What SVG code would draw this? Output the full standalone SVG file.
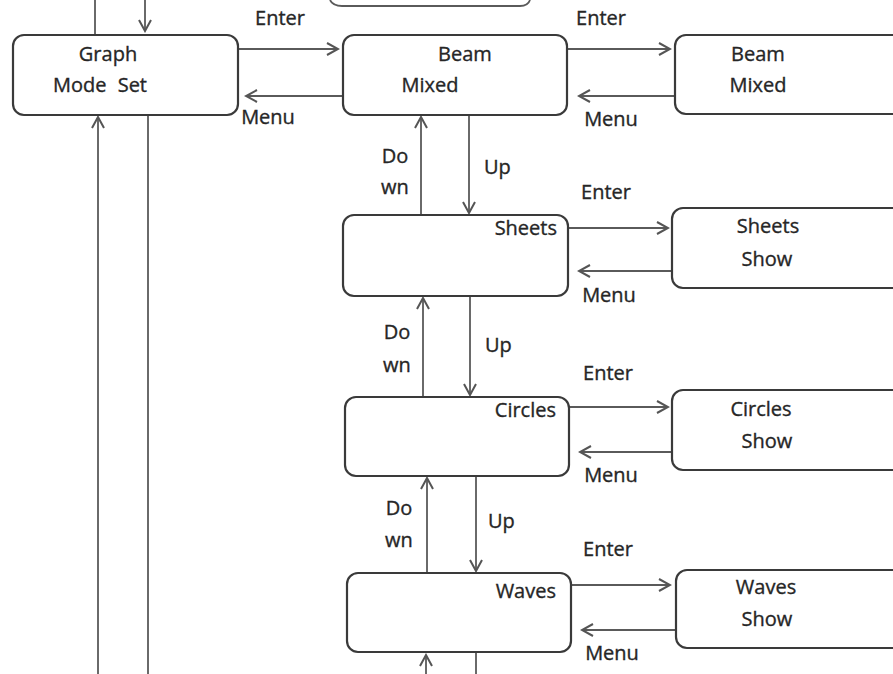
<svg xmlns="http://www.w3.org/2000/svg" width="893" height="674" viewBox="0 0 893 674">
<defs>
<marker id="ah" markerUnits="userSpaceOnUse" markerWidth="14" markerHeight="16" refX="12" refY="7" orient="auto">
<path d="M1,1 L12,7 L1,13" fill="none" stroke="#555" stroke-width="2"/>
</marker>
<style>
.box{fill:#fff;stroke:#3a3a3a;stroke-width:2.2}
.t{font-family:"Open Sans","Liberation Sans",sans-serif;font-size:20px;fill:#262626;stroke:#262626;stroke-width:0.35}
.m{text-anchor:middle}
.e{text-anchor:end}
.c{stroke:#5a5a5a;stroke-width:1.8;fill:none}
.a{marker-end:url(#ah)}
</style>
</defs>
<rect width="893" height="674" fill="#fff"/>
<path class="c" d="M330,0 Q333,6 342,6 L520,6 Q528,6 530,0" stroke="#3a3a3a" stroke-width="2"/>
<g id="connectors">
<line class="c" x1="95" y1="0" x2="95" y2="35"/>
<line class="c a" x1="145" y1="0" x2="145" y2="31"/>
<line class="c a" x1="98" y1="674" x2="98" y2="117"/>
<line class="c" x1="148" y1="115" x2="148" y2="674"/>
<line class="c a" x1="238" y1="49" x2="338" y2="49"/>
<line class="c a" x1="343" y1="96" x2="246" y2="96"/>
<line class="c a" x1="567" y1="49" x2="670" y2="49"/>
<line class="c a" x1="675" y1="96" x2="579" y2="96"/>
<line class="c a" x1="421" y1="215" x2="421" y2="117"/>
<line class="c a" x1="469" y1="115" x2="469" y2="213"/>
<line class="c a" x1="568" y1="228" x2="668" y2="228"/>
<line class="c a" x1="672" y1="271" x2="579" y2="271"/>
<line class="c a" x1="423" y1="397" x2="423" y2="298"/>
<line class="c a" x1="470" y1="296" x2="470" y2="395"/>
<line class="c a" x1="569" y1="407" x2="668" y2="407"/>
<line class="c a" x1="672" y1="452" x2="580" y2="452"/>
<line class="c a" x1="427" y1="573" x2="427" y2="478"/>
<line class="c a" x1="476" y1="476" x2="476" y2="571"/>
<line class="c a" x1="571" y1="585" x2="670" y2="585"/>
<line class="c a" x1="676" y1="630" x2="582" y2="630"/>
<line class="c a" x1="426" y1="674" x2="426" y2="655"/>
<line class="c" x1="476" y1="652" x2="476" y2="674"/>
<text class="t m" x="280" y="25">Enter</text>
<text class="t m" x="268" y="124">Menu</text>
<text class="t m" x="601" y="25">Enter</text>
<text class="t m" x="611" y="126">Menu</text>
<text class="t m" x="395" y="163">Do</text>
<text class="t m" x="395" y="194">wn</text>
<text class="t" x="484" y="174">Up</text>
<text class="t m" x="606" y="199">Enter</text>
<text class="t m" x="609" y="302">Menu</text>
<text class="t m" x="397" y="339">Do</text>
<text class="t m" x="397" y="372">wn</text>
<text class="t" x="485" y="352">Up</text>
<text class="t m" x="608" y="380">Enter</text>
<text class="t m" x="611" y="482">Menu</text>
<text class="t m" x="399" y="515">Do</text>
<text class="t m" x="399" y="547">wn</text>
<text class="t" x="488" y="528">Up</text>
<text class="t m" x="608" y="556">Enter</text>
<text class="t m" x="612" y="660">Menu</text>
</g>
<g id="graph-mode-set">
<rect class="box" x="13" y="35" width="225" height="80" rx="11"/>
<text class="t m" x="108" y="61">Graph</text>
<text class="t m" x="100" y="92" word-spacing="6">Mode Set</text>
</g>
<g id="beam-mixed">
<rect class="box" x="343" y="35" width="224" height="80" rx="11"/>
<text class="t m" x="465" y="61">Beam</text>
<text class="t m" x="430" y="92">Mixed</text>
</g>
<g id="beam-mixed-2">
<rect class="box" x="675" y="35" width="230" height="79" rx="11"/>
<text class="t m" x="758" y="61">Beam</text>
<text class="t m" x="758" y="92">Mixed</text>
</g>
<g id="sheets">
<rect class="box" x="343" y="215" width="225" height="81" rx="11"/>
<text class="t e" x="557" y="235">Sheets</text>
</g>
<g id="sheets-show">
<rect class="box" x="672" y="208" width="233" height="80" rx="11"/>
<text class="t m" x="768" y="233">Sheets</text>
<text class="t m" x="767" y="266">Show</text>
</g>
<g id="circles">
<rect class="box" x="345" y="397" width="224" height="79" rx="11"/>
<text class="t e" x="556" y="417">Circles</text>
</g>
<g id="circles-show">
<rect class="box" x="672" y="390" width="233" height="80" rx="11"/>
<text class="t m" x="761" y="416">Circles</text>
<text class="t m" x="767" y="448">Show</text>
</g>
<g id="waves">
<rect class="box" x="347" y="573" width="224" height="79" rx="11"/>
<text class="t e" x="556" y="598">Waves</text>
</g>
<g id="waves-show">
<rect class="box" x="676" y="570" width="229" height="78" rx="11"/>
<text class="t m" x="766" y="594">Waves</text>
<text class="t m" x="767" y="626">Show</text>
</g>
</svg>
